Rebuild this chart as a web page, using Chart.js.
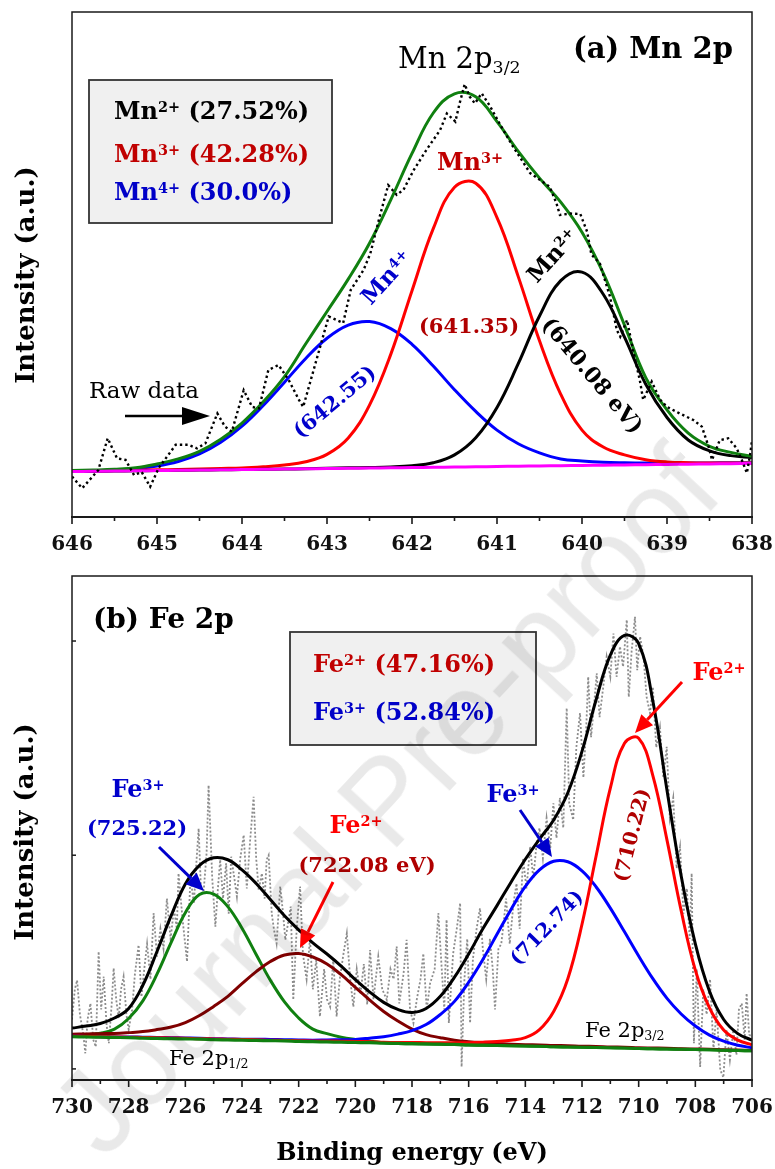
<!DOCTYPE html>
<html><head><meta charset="utf-8">
<script src="https://cdn.jsdelivr.net/npm/chart.js@4.4.1/dist/chart.umd.min.js"></script>
<style>
html,body{margin:0;padding:0;background:#fff;}
#wrap{position:relative;width:775px;height:1169px;overflow:hidden;background:#fff;}
#c1{position:absolute;left:0;top:0;}
#c2{position:absolute;left:0;top:560px;}
#wm{position:absolute;left:385px;top:800px;transform:translate(-50%,-50%) rotate(-47deg);font:118px "Liberation Sans",Arial,sans-serif;color:rgba(0,0,0,0.085);white-space:nowrap;pointer-events:none;}
</style></head><body>
<div id="wrap">
<canvas id="c1" width="775" height="560"></canvas>
<canvas id="c2" width="775" height="609"></canvas>
<div id="wm">Journal Pre-proof</div>
</div>
<script>
// ---------------- (a) Mn 2p data ----------------
const mnEnergy = [646,645.75,645.5,645.25,645,644.75,644.5,644.25,644,643.75,643.5,643.25,643,642.75,642.5,642.25,642,641.75,641.5,641.25,641,640.75,640.5,640.25,640,639.75,639.5,639.25,639,638.75,638.5,638.25,638];
const mnBackground = [9.0,9.05,9.1,9.15,9.2,9.25,9.3,9.35,9.4,9.45,9.5,9.55,9.6,9.65,9.7,9.75,9.8,9.85,9.9,9.95,10.0,10.05,10.1,10.15,10.2,10.25,10.3,10.35,10.4,10.45,10.5,10.55,10.6];
const mn4 = [9.0,9.1,9.3,9.6,10.1,11.0,12.5,14.8,18.0,22.1,26.7,31.4,35.4,38.0,38.7,37.3,34.2,29.9,25.2,20.9,17.2,14.5,12.7,11.5,11.1,10.85,10.75,10.7,10.7,10.7,10.7,10.75,10.75];
const mn3 = [9.1,9.15,9.2,9.25,9.35,9.4,9.5,9.6,9.7,9.95,10.3,10.95,12.4,15.65,22.15,32.2,44.8,57.1,65.3,66.1,59.3,47.6,34.9,24.3,17.2,13.85,12.3,11.35,10.9,10.75,10.7,10.7,10.7];
const mn2 = [9.0,9.05,9.1,9.15,9.2,9.25,9.3,9.35,9.4,9.45,9.5,9.55,9.65,9.75,9.8,9.9,10.15,10.75,12.3,15.7,21.7,30.35,39.8,46.8,48.5,44.1,35.6,26.3,19.7,15.25,13.1,12.15,11.8];
const mnEnvelope = [9.2,9.3,9.45,9.75,10.5,11.5,13.0,15.4,18.6,22.8,27.8,34.3,40.7,47.1,54.2,62.8,72.0,80.0,83.8,83.2,78.3,72.4,67.1,62.35,56.4,48.3,38.0,27.6,21.2,16.6,14.0,12.8,12.0];
const mnRaw = [[646.0,8.0],[645.88,5.7],[645.69,9.3],[645.58,15.6],[645.47,11.6],[645.37,11.3],[645.27,8.3],[645.18,8.9],[645.08,6.0],[644.98,9.7],
[644.78,14.3],[644.63,14.3],[644.53,13.6],[644.43,14.6],[644.29,20.5],[644.2,17.9],[644.12,16.9],[643.98,25.1],[643.88,21.8],[643.8,21.5],
[643.69,29.1],[643.57,30.1],[643.45,27.1],[643.33,23.2],[643.28,21.8],[642.98,39.7],[642.81,38.4],[642.72,45.0],[642.57,48.9],[642.49,52.2],
[642.38,59.5],[642.28,65.7],[642.18,63.8],[642.1,64.8],[641.98,68.7],[641.83,72.7],[641.67,76.6],[641.59,79.9],[641.49,78.3],[641.44,81.9],
[641.38,85.7],[641.32,83.2],[641.26,81.9],[641.18,83.9],[641.08,81.3],[640.96,77.6],[640.81,73.3],[640.61,68.1],[640.49,66.7],[640.38,65.4],
[640.3,62.1],[640.26,59.8],[640.14,60.1],[640.02,60.0],[639.94,56.5],[639.89,52.0],[639.79,50.2],[639.67,43.6],[639.59,37.0],[639.55,35.7],
[639.47,39.0],[639.4,33.1],[639.32,27.1],[639.28,23.2],[639.18,26.8],[639.08,23.2],[639.0,21.8],[638.85,20.5],[638.69,19.2],[638.59,17.9],
[638.51,13.9],[638.47,11.3],[638.38,15.2],[638.28,15.6],[638.18,13.6],[638.12,11.3],[638.06,8.7],[638.02,12.6],[638.0,15.2]];
const mnTicks = {min:638, max:646, step:0.5};

// ---------------- (b) Fe 2p data ----------------
const feEnergy = [730,729.5,729,728.5,728,727.5,727,726.5,726,725.5,725,724.5,724,723.5,723,722.5,722,721.5,721,720.5,720,719.5,719,718.5,718,717.5,717,716.5,716,715.5,715,714.5,714,713.5,713,712.5,712,711.5,711,710.5,710,709.5,709,708.5,708,707.5,707,706.5,706];
const feBackground = [8.6,8.55,8.5,8.45,8.4,8.3,8.25,8.2,8.15,8.1,8.0,7.95,7.9,7.85,7.8,7.75,7.65,7.6,7.55,7.5,7.45,7.4,7.3,7.25,7.2,7.15,7.1,7.05,6.95,6.9,6.85,6.8,6.75,6.7,6.6,6.55,6.5,6.45,6.4,6.35,6.25,6.2,6.15,6.1,6.05,6.0,5.9,5.85,5.8];
const fe3Half = [8.9,9.0,9.3,10.1,12.2,15.7,21.0,27.3,33.2,36.8,36.9,34.4,30.1,24.9,19.8,15.5,12.3,10.1,9.2,8.5,8.05,7.7,7.4,7.25,7.2,7.15,7.1,7.05,6.95,6.9,6.85,6.8,6.75,6.7,6.6,6.55,6.5,6.45,6.4,6.35,6.25,6.2,6.15,6.1,6.05,6.0,5.9,5.85,5.8];
const fe2Half = [9.1,9.15,9.2,9.25,9.4,9.6,10.0,10.5,11.4,12.8,14.6,16.6,19.1,21.5,23.5,24.8,25.1,24.4,23.0,20.9,18.4,15.9,13.6,11.7,10.1,9.0,8.4,7.9,7.6,7.4,7.25,7.1,7.0,6.95,6.85,6.8,6.7,6.65,6.55,6.5,6.4,6.35,6.3,6.2,6.15,6.1,6.0,5.95,5.9];
const fe3Main = [8.7,8.65,8.6,8.55,8.55,8.5,8.45,8.4,8.35,8.3,8.2,8.15,8.1,8.1,8.05,8.0,7.95,7.9,7.95,8.0,8.05,8.3,8.6,9.1,9.8,11.0,13.0,15.6,19.4,23.9,28.9,33.9,38.4,41.7,43.4,43.3,41.5,38.3,34.1,29.4,24.6,20.1,16.2,13.1,10.7,8.9,7.7,6.9,6.4];
const fe2Main = [8.7,8.65,8.6,8.55,8.5,8.45,8.4,8.35,8.3,8.2,8.15,8.1,8.05,8.0,7.9,7.85,7.8,7.75,7.75,7.7,7.65,7.6,7.5,7.45,7.45,7.4,7.4,7.4,7.4,7.5,7.65,7.9,8.4,10.0,13.6,20.1,30.9,44.5,57.9,66.8,67.8,60.4,47.6,33.6,21.8,14.3,9.9,7.9,7.0];
const feEnvelope = [10.3,10.7,11.2,12.3,14.2,18.8,25.5,32.6,38.9,42.6,44.1,43.7,41.7,39.0,35.8,32.6,29.8,27.2,25.0,22.6,19.9,17.5,15.4,14.0,13.4,14.2,16.6,20.4,25.0,30.0,34.6,39.3,43.8,47.8,51.6,57.0,65.2,75.5,84.3,88.2,86.6,75.2,57.5,40.5,27.0,17.6,12.0,9.2,7.9];
const feRaw = [[730.0,12],[729.9,18],[729.82,19.8],[729.72,13],[729.6,9],[729.53,5.3],[729.45,12],[729.35,15.2],[729.25,8],[729.16,6.6],
[729.06,25.5],[728.97,14],[728.88,20.5],[728.78,11],[728.7,7.3],[728.6,15],[728.53,22.2],[728.44,16],[728.35,12.2],[728.27,18],
[728.18,20.5],[728.08,13],[728.0,10.0],[727.88,13.9],[727.78,21],[727.65,26.8],[727.55,16.5],[727.45,22],[727.35,27],[727.23,20],
[727.12,33.1],[727.0,24.5],[726.88,30],[726.77,26],[726.65,36],[726.52,28],[726.4,34],[726.3,30],[726.24,41.0],[726.1,32],
[725.94,23.5],[725.82,40.3],[725.7,35],[725.6,44],[725.53,49.9],[725.45,38],[725.35,37.7],[725.25,45],[725.18,58.5],[725.05,40],
[724.94,30.4],[724.85,38],[724.77,43.7],[724.67,36],[724.56,43],[724.47,33],[724.38,44.3],[724.27,40],[724.18,36.4],[724.06,44],
[723.94,48.6],[723.83,38],[723.72,47],[723.59,56.2],[723.5,44],[723.41,37.7],[723.3,41],[723.2,36],[723.13,43.7],[723.06,44.6],
[722.95,33],[722.87,29.8],[722.78,27.1],[722.65,38.4],[722.55,33],[722.47,27.8],[722.35,32],[722.28,34.4],[722.19,15.9],[722.07,30],
[721.95,38.4],[721.85,25],[721.72,20],[721.6,28],[721.5,18],[721.38,23.8],[721.25,12.6],[721.1,22],[721.0,16],[720.89,14.5],
[720.78,24],[720.66,12.6],[720.55,20],[720.42,25],[720.3,29.1],[720.18,20],[720.07,14.5],[719.95,22],[719.82,17],[719.7,23],
[719.58,15],[719.48,25.8],[719.36,16],[719.19,24.5],[719.05,18],[718.89,15.9],[718.76,22],[718.65,20],[718.54,26.5],[718.45,15.2],
[718.3,21],[718.19,27.8],[718.07,14],[717.95,11.3],[717.83,16],[717.7,20],[717.6,25.1],[717.48,14],[717.36,19.2],[717.2,22],
[717.07,33.1],[716.95,22],[716.86,14],[716.78,31.8],[716.7,11.3],[716.55,25],[716.42,30],[716.3,35.1],[716.25,2.6],[716.15,20],
[716.05,28],[715.95,11.3],[715.85,24],[715.72,30],[715.6,34.1],[715.5,26],[715.38,20],[715.25,28],[715.15,22],[715.07,14.0],
[714.95,26],[714.85,27],[714.78,30.4],[714.68,36],[714.55,27],[714.42,35],[714.31,39.0],[714.2,30],[714.08,44],[713.96,38],
[713.83,46.3],[713.72,40],[713.6,47],[713.5,50],[713.38,44],[713.25,52],[713.12,46],[713.01,54.9],[712.9,48],[712.78,56],
[712.66,50],[712.54,73.8],[712.45,54.9],[712.31,51.6],[712.2,66],[712.07,72.8],[711.95,60],[711.85,70],[711.78,80.0],[711.68,68],
[711.58,74],[711.48,80.7],[711.38,72],[711.25,78],[711.13,84.0],[711.0,80],[710.89,88.6],[710.78,80],[710.66,86],[710.55,82],
[710.42,91.3],[710.35,76.0],[710.25,85],[710.13,91.9],[710.05,81.3],[709.95,88],[709.83,84],[709.72,76],[709.6,72.8],[709.5,78],
[709.38,66],[709.25,70],[709.13,60],[709.01,66.1],[708.9,52],[708.78,56],[708.66,42],[708.54,46.3],[708.42,33],[708.3,38],
[708.2,28],[708.13,41.0],[708.05,7.3],[707.95,22],[707.83,2.6],[707.72,18],[707.6,13],[707.48,20],[707.36,6],[707.25,14],
[707.12,2],[707.01,0.5],[706.9,10],[706.78,4],[706.66,9.9],[706.55,5],[706.46,14],[706.36,15.2],[706.26,8],[706.19,17.2],
[706.1,9],[706.0,8.6]];
const feTicks = {min:706, max:730, step:1};
const feYTicks = [2.2, 44.6, 87.1];

// ---------------- helpers ----------------
const SERIF = '"DejaVu Serif", "Liberation Serif", serif';
const pts = (xs, ys) => xs.map((x, i) => ({x: x, y: ys[i]}));

function rich(ctx, x, y, segs, o) {
  const weight = o.bold ? 'bold ' : '';
  const sz = o.size;
  const parts = segs.map(s => (typeof s === 'string') ? {t: s} : Object.assign({}, s));
  let total = 0;
  for (const p of parts) {
    p.fs = (p.sup || p.sub) ? sz * 0.6 : sz;
    ctx.font = weight + p.fs + 'px ' + SERIF;
    p.w = ctx.measureText(p.t).width;
    total += p.w;
  }
  ctx.save();
  ctx.translate(x, y);
  if (o.rot) ctx.rotate(o.rot * Math.PI / 180);
  ctx.fillStyle = o.color || '#000';
  ctx.textBaseline = 'alphabetic';
  ctx.textAlign = 'left';
  let cx = o.align === 'center' ? -total / 2 : (o.align === 'right' ? -total : 0);
  const by = o.mid ? sz * 0.36 : 0;
  for (const p of parts) {
    ctx.font = weight + p.fs + 'px ' + SERIF;
    const dy = p.sup ? -sz * 0.3 : (p.sub ? sz * 0.16 : 0);
    ctx.fillText(p.t, cx, by + dy);
    cx += p.w;
  }
  ctx.restore();
}

function arrow(ctx, x1, y1, x2, y2, color, lw, hl, hw) {
  const a = Math.atan2(y2 - y1, x2 - x1);
  const bx = x2 - hl * Math.cos(a), by = y2 - hl * Math.sin(a);
  ctx.save();
  ctx.strokeStyle = color; ctx.fillStyle = color; ctx.lineWidth = lw;
  ctx.beginPath(); ctx.moveTo(x1, y1); ctx.lineTo(bx, by); ctx.stroke();
  ctx.beginPath();
  ctx.moveTo(x2, y2);
  ctx.lineTo(bx + hw * Math.sin(a), by - hw * Math.cos(a));
  ctx.lineTo(bx - hw * Math.sin(a), by + hw * Math.cos(a));
  ctx.closePath(); ctx.fill();
  ctx.restore();
}

function frameAndTicks(chart, majorEvery) {
  const ctx = chart.ctx, a = chart.chartArea, xs = chart.scales.x;
  ctx.save();
  ctx.strokeStyle = '#1a1a1a';
  ctx.lineWidth = 1.5;
  ctx.strokeRect(a.left, a.top, a.right - a.left, a.bottom - a.top);
  ctx.lineWidth = 2.2;
  ctx.beginPath(); ctx.moveTo(a.left - 1, a.bottom); ctx.lineTo(a.right + 1, a.bottom); ctx.stroke();
  ctx.lineWidth = 1.6;
  for (const t of xs.ticks) {
    const px = xs.getPixelForValue(t.value);
    const r = t.value / majorEvery;
    const major = Math.abs(r - Math.round(r)) < 1e-6;
    ctx.beginPath(); ctx.moveTo(px, a.bottom); ctx.lineTo(px, a.bottom + (major ? 7 : 4)); ctx.stroke();
  }
  ctx.restore();
}

function legendBox(ctx, x, y, w, h) {
  ctx.save();
  ctx.fillStyle = '#f0f0f0';
  ctx.fillRect(x, y, w, h);
  ctx.strokeStyle = '#333';
  ctx.lineWidth = 1.8;
  ctx.strokeRect(x, y, w, h);
  ctx.restore();
}

function xAxis(t, afterH) {
  return {
    type: 'linear', reverse: true, min: t.min, max: t.max,
    grid: {display: false}, border: {display: false},
    ticks: {
      stepSize: t.step, autoSkip: false, maxRotation: 0, minRotation: 0, padding: 8,
      color: '#111', font: {family: SERIF, size: 20, weight: 'bold'},
      callback: function (v) {
        const major = (t.step === 0.5) ? Math.abs(v - Math.round(v)) < 1e-6 : Math.round(v) % 2 === 0;
        return major ? String(Math.round(v)) : '';
      }
    },
    afterFit: function (s) { s.height = afterH; s.paddingLeft = 0; s.paddingRight = 0; }
  };
}
const yAxis = {
  type: 'linear', min: 0, max: 100,
  grid: {display: false}, border: {display: false}, ticks: {display: false},
  afterFit: function (s) { s.width = 72; s.paddingTop = 0; s.paddingBottom = 0; }
};

// ---------------- (a) decorations ----------------
const mnDecor = {
  id: 'mnDecor',
  afterDraw(chart) {
    const ctx = chart.ctx;
    frameAndTicks(chart, 1);
    rich(ctx, 733, 58, ['(a) Mn 2p'], {size: 29, bold: true, align: 'right'});
    rich(ctx, 398, 68, ['Mn 2p', {t: '3/2', sub: true}], {size: 29});
    legendBox(ctx, 89, 80, 243, 143);
    rich(ctx, 114, 119, ['Mn', {t: '2+', sup: true}, ' (27.52%)'], {size: 24, bold: true, color: '#000'});
    rich(ctx, 114, 162, ['Mn', {t: '3+', sup: true}, ' (42.28%)'], {size: 24, bold: true, color: '#c00000'});
    rich(ctx, 114, 200, ['Mn', {t: '4+', sup: true}, ' (30.0%)'], {size: 24, bold: true, color: '#0000c8'});
    rich(ctx, 470, 170, ['Mn', {t: '3+', sup: true}], {size: 24, bold: true, color: '#c00000', align: 'center'});
    rich(ctx, 469, 333, ['(641.35)'], {size: 21, bold: true, color: '#b00000', align: 'center'});
    rich(ctx, 386, 277, ['Mn', {t: '4+', sup: true}], {size: 23, bold: true, color: '#0000cc', align: 'center', mid: true, rot: -48});
    rich(ctx, 334, 401, ['(642.55)'], {size: 21, bold: true, color: '#0000cc', align: 'center', mid: true, rot: -40});
    rich(ctx, 552, 255, ['Mn', {t: '2+', sup: true}], {size: 23, bold: true, color: '#000', align: 'center', mid: true, rot: -48});
    rich(ctx, 593, 375, ['(640.08 eV)'], {size: 22, bold: true, color: '#000', align: 'center', mid: true, rot: 50});
    rich(ctx, 89, 398, ['Raw data'], {size: 23, color: '#000'});
    arrow(ctx, 125, 416, 210, 416, '#000', 2.5, 28, 9);
    rich(ctx, 25, 275, ['Intensity (a.u.)'], {size: 26, bold: true, align: 'center', mid: true, rot: -90});
  }
};

// ---------------- (b) decorations ----------------
const OFF = 560;
const feDecor = {
  id: 'feDecor',
  afterDraw(chart) {
    const ctx = chart.ctx, a = chart.chartArea, ys = chart.scales.y;
    frameAndTicks(chart, 2);
    ctx.save(); ctx.strokeStyle = '#1a1a1a'; ctx.lineWidth = 1.5;
    for (const v of feYTicks) { const py = ys.getPixelForValue(v); ctx.beginPath(); ctx.moveTo(a.left, py); ctx.lineTo(a.left + 4, py); ctx.stroke(); }
    ctx.restore();
    rich(ctx, 93, 628 - OFF, ['(b) Fe 2p'], {size: 28, bold: true});
    legendBox(ctx, 290, 632 - OFF, 246, 113);
    rich(ctx, 313, 672 - OFF, ['Fe', {t: '2+', sup: true}, ' (47.16%)'], {size: 24, bold: true, color: '#c00000'});
    rich(ctx, 313, 720 - OFF, ['Fe', {t: '3+', sup: true}, ' (52.84%)'], {size: 24, bold: true, color: '#0000c8'});
    rich(ctx, 719, 680 - OFF, ['Fe', {t: '2+', sup: true}], {size: 24, bold: true, color: '#ff0000', align: 'center'});
    arrow(ctx, 682, 682 - OFF, 635, 733 - OFF, '#ff0000', 3, 18, 8);
    rich(ctx, 513, 802 - OFF, ['Fe', {t: '3+', sup: true}], {size: 24, bold: true, color: '#0000cc', align: 'center'});
    arrow(ctx, 520, 810 - OFF, 552, 857 - OFF, '#0000cc', 3, 18, 8);
    rich(ctx, 546, 927 - OFF, ['(712.74)'], {size: 20, bold: true, color: '#0000cc', align: 'center', mid: true, rot: -46});
    rich(ctx, 631, 835 - OFF, ['(710.22)'], {size: 20, bold: true, color: '#b00000', align: 'center', mid: true, rot: -76});
    rich(ctx, 138, 797 - OFF, ['Fe', {t: '3+', sup: true}], {size: 24, bold: true, color: '#0000cc', align: 'center'});
    rich(ctx, 137, 835 - OFF, ['(725.22)'], {size: 21, bold: true, color: '#0000cc', align: 'center'});
    arrow(ctx, 159, 847 - OFF, 204, 891 - OFF, '#0000cc', 3, 18, 8);
    rich(ctx, 356, 833 - OFF, ['Fe', {t: '2+', sup: true}], {size: 24, bold: true, color: '#ff0000', align: 'center'});
    rich(ctx, 367, 872 - OFF, ['(722.08 eV)'], {size: 21, bold: true, color: '#b00000', align: 'center'});
    arrow(ctx, 333, 882 - OFF, 300, 948 - OFF, '#ff0000', 3, 18, 8);
    rich(ctx, 169, 1065 - OFF, ['Fe 2p', {t: '1/2', sub: true}], {size: 21});
    rich(ctx, 585, 1037 - OFF, ['Fe 2p', {t: '3/2', sub: true}], {size: 21});
    rich(ctx, 24, 832 - OFF, ['Intensity (a.u.)'], {size: 26, bold: true, align: 'center', mid: true, rot: -90});
    rich(ctx, 412, 1160 - OFF, ['Binding energy (eV)'], {size: 24, bold: true, align: 'center'});
  }
};

const common = {
  responsive: false, animation: false, events: [],
  elements: {point: {radius: 0}, line: {tension: 0.4, fill: false}},
  plugins: {legend: {display: false}, tooltip: {enabled: false}}
};

new Chart(document.getElementById('c1'), {
  type: 'line',
  data: {datasets: [
    {label: 'Raw data', data: mnRaw.map(p => ({x: p[0], y: p[1]})), borderColor: '#000', borderWidth: 2.4, borderDash: [2.4, 3], tension: 0},
    {label: 'Background', data: pts(mnEnergy, mnBackground), borderColor: '#ff00ff', borderWidth: 3},
    {label: 'Envelope', data: pts(mnEnergy, mnEnvelope), borderColor: '#108010', borderWidth: 3},
    {label: 'Mn2+', data: pts(mnEnergy, mn2), borderColor: '#000', borderWidth: 3},
    {label: 'Mn3+', data: pts(mnEnergy, mn3), borderColor: '#ff0000', borderWidth: 3},
    {label: 'Mn4+', data: pts(mnEnergy, mn4), borderColor: '#0000ff', borderWidth: 3}
  ]},
  options: Object.assign({}, common, {
    layout: {padding: {top: 12, right: 23, left: 0, bottom: 0}},
    scales: {x: xAxis(mnTicks, 43), y: yAxis}
  }),
  plugins: [mnDecor]
});

new Chart(document.getElementById('c2'), {
  type: 'line',
  data: {datasets: [
    {label: 'Background', data: pts(feEnergy, feBackground), borderColor: '#108010', borderWidth: 3.2},
    {label: 'Envelope', data: pts(feEnergy, feEnvelope), borderColor: '#000', borderWidth: 3},
    {label: 'Fe2+ 2p3/2', data: pts(feEnergy, fe2Main), borderColor: '#ff0000', borderWidth: 3},
    {label: 'Fe3+ 2p3/2', data: pts(feEnergy, fe3Main), borderColor: '#0000ff', borderWidth: 3},
    {label: 'Fe2+ 2p1/2', data: pts(feEnergy, fe2Half), borderColor: '#800000', borderWidth: 3},
    {label: 'Fe3+ 2p1/2', data: pts(feEnergy, fe3Half), borderColor: '#108010', borderWidth: 3},
    {label: 'Raw data', data: feRaw.map(p => ({x: p[0], y: p[1]})), borderColor: '#8c8c8c', borderWidth: 1.8, borderDash: [2, 2], tension: 0}
  ]},
  options: Object.assign({}, common, {
    layout: {padding: {top: 16, right: 23, left: 0, bottom: 0}},
    scales: {x: xAxis(feTicks, 89), y: yAxis}
  }),
  plugins: [feDecor]
});
</script>
</body></html>
